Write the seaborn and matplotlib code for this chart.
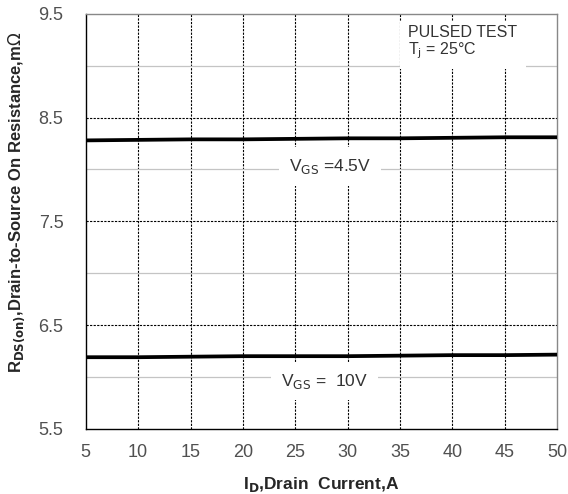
import matplotlib
matplotlib.use("Agg")
import matplotlib.pyplot as plt
import pandas as pd
import seaborn as sns

# Data
drain_current = [5, 10, 15, 20, 25, 30, 35, 40, 45, 50]
rds_vgs_45 = [8.28, 8.285, 8.29, 8.29, 8.295, 8.30, 8.30, 8.305, 8.31, 8.31]
rds_vgs_10 = [6.19, 6.19, 6.195, 6.20, 6.20, 6.20, 6.205, 6.21, 6.21, 6.215]
x_ticks = [5, 10, 15, 20, 25, 30, 35, 40, 45, 50]
y_ticks = [5.5, 6.5, 7.5, 8.5, 9.5]
y_minor = [6.0, 7.0, 8.0, 9.0]

df = pd.DataFrame({
    "Id": drain_current * 2,
    "Rds": rds_vgs_45 + rds_vgs_10,
    "Vgs": ["4.5V"] * len(drain_current) + ["10V"] * len(drain_current),
})

sns.set_style("white")
plt.rcParams['font.family'] = ['Liberation Sans', 'DejaVu Sans']

fig, ax = plt.subplots(figsize=(5.68, 4.94), dpi=100)
fig.subplots_adjust(left=0.151, right=0.981, bottom=0.132, top=0.972)

# Grid
for x in x_ticks[1:-1]:
    ax.axvline(x, color='black', linestyle=(0, (2, 1.2)), linewidth=0.8, zorder=1)
for y in y_ticks[1:-1]:
    ax.axhline(y, color='black', linestyle=(0, (2, 1.2)), linewidth=0.8, zorder=1)
for y in y_minor:
    ax.axhline(y, color='#c4c4c4', linewidth=0.9, zorder=1)

sns.lineplot(data=df, x="Id", y="Rds", hue="Vgs", palette=["black", "black"],
             linewidth=2.7, legend=False, ax=ax, zorder=3)

ax.set_xlim(5, 50)
ax.set_ylim(5.5, 9.5)
ax.set_xticks(x_ticks)
ax.set_yticks(y_ticks)
ax.tick_params(axis='x', direction='in', length=4, color='black', labelsize=13,
               labelcolor='#505050', pad=11)
ax.tick_params(axis='y', length=0, labelsize=13, labelcolor='#505050', pad=16)

for side in ['left', 'bottom']:
    ax.spines[side].set_color('black')
    ax.spines[side].set_linewidth(1.0)
for side in ['top', 'right']:
    ax.spines[side].set_color('#888888')
    ax.spines[side].set_linewidth(1.0)

ax.set_xlabel(r"I$_\mathbf{D}$,Drain  Current,A", fontsize=12.5, fontweight='bold')
ax.xaxis.set_label_coords(0.5, -0.112)
ax.set_ylabel(r"R$_\mathbf{DS(on)}$,Drain-to-Source On Resistance,m$\Omega$",
              fontsize=12, fontweight='bold')
ax.yaxis.set_label_coords(-0.125, 0.545)

ax.text(28.3, 8.03, r"V$_\mathrm{GS}$ =4.5V", fontsize=12.5, color='#333333',
        ha='center', va='center', bbox=dict(facecolor='white', edgecolor='none', pad=7), zorder=4)
ax.text(27.8, 5.96, r"V$_\mathrm{GS}$ =  10V", fontsize=12.5, color='#333333',
        ha='center', va='center', bbox=dict(facecolor='white', edgecolor='none', pad=7), zorder=4)
ax.text(35.8, 9.39, "PULSED TEST\n" + r"T$_\mathrm{j}$ = 25°C", fontsize=11.5,
        color='#333333', ha='left', va='top', linespacing=1.0,
        bbox=dict(facecolor='white', edgecolor='none', pad=6), zorder=4)

fig.savefig("out.png", dpi=100)
